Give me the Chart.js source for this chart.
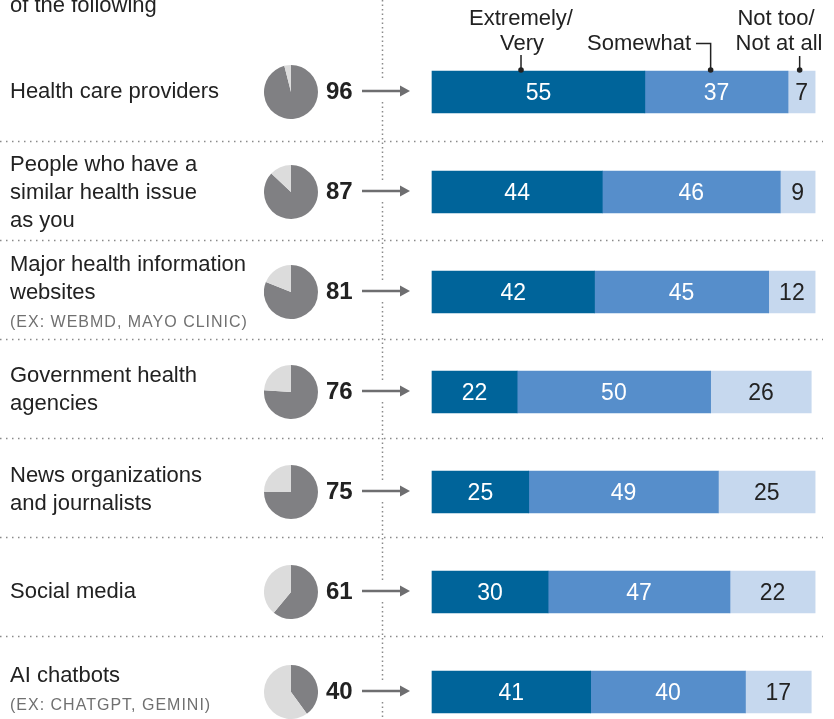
<!DOCTYPE html>
<html>
<head>
<meta charset="utf-8">
<script src="https://cdn.jsdelivr.net/npm/chart.js@4.4.1/dist/chart.umd.min.js"></script>
<style>
  html, body { margin: 0; padding: 0; background: #fff; }
  #wrap { position: relative; width: 834px; height: 719px; overflow: hidden; background: #fff; }
  #main { position: absolute; left: 0; top: 0; }
  .pie { position: absolute; }
</style>
</head>
<body>
<div id="wrap"><canvas id="main" width="834" height="719"></canvas></div>
<script>
const categories = [
    'Health care providers',
    'People who have a similar health issue as you',
    'Major health information websites',
    'Government health agencies',
    'News organizations and journalists',
    'Social media',
    'AI chatbots'
];
const labelLines = [
    ['Health care providers'],
    ['People who have a', 'similar health issue', 'as you'],
    ['Major health information', 'websites'],
    ['Government health', 'agencies'],
    ['News organizations', 'and journalists'],
    ['Social media'],
    ['AI chatbots']
];
const subLabels = ['', '', '(EX: WEBMD, MAYO CLINIC)', '', '', '', '(EX: CHATGPT, GEMINI)'];

// share who get health info from each source
const usedPct = [96, 87, 81, 76, 75, 61, 40];

// trust among those who use it
const extremelyVery = [55, 44, 42, 22, 25, 30, 41];
const somewhat = [37, 46, 45, 50, 49, 47, 40];
const notTooNotAtAll = [7, 9, 12, 26, 25, 22, 17];

const seriesNames = ['Extremely/Very', 'Somewhat', 'Not too/Not at all'];

const FONT = '"Liberation Sans", Arial, sans-serif';
const TEXT = '#222222';
const BLUES = ['#00649a', '#568ecb', '#c6d8ee'];
const PIE_COLORS = ['#808083', '#dcdcdc'];
const PIE_X = 290.5;

function dotted(ctx, x1, y1, x2, y2, gap) {
    ctx.save();
    ctx.strokeStyle = '#8a8a8a';
    ctx.lineWidth = 1.5;
    ctx.setLineDash([1.5, gap]);
    ctx.beginPath();
    ctx.moveTo(x1, y1);
    ctx.lineTo(x2, y2);
    ctx.stroke();
    ctx.restore();
}

const decorations = {
    id: 'decorations',
    afterDatasetsDraw(chart) {
        const { ctx, scales: { x, y } } = chart;
        ctx.save();

        // segment values
        ctx.font = `23px ${FONT}`;
        ctx.textAlign = 'center';
        ctx.textBaseline = 'alphabetic';
        chart.data.datasets.forEach((ds, di) => {
            chart.getDatasetMeta(di).data.forEach((bar, i) => {
                const p = bar.getProps(['x', 'base', 'y'], true);
                ctx.fillStyle = di === 2 ? TEXT : '#ffffff';
                ctx.fillText(ds.data[i], (p.x + p.base) / 2, p.y + 8);
            });
        });

        // heading fragment
        ctx.font = `22px ${FONT}`;
        ctx.textAlign = 'left';
        ctx.fillStyle = TEXT;
        ctx.fillText('of the following', 10, 12);

        const centers = categories.map((c, i) => y.getPixelForValue(i));

        // row labels
        centers.forEach((cy, i) => {
            const lines = labelLines[i].slice();
            if (subLabels[i]) lines.push(subLabels[i]);
            const n = lines.length;
            const shift = n === 3 ? 7 : n === 2 ? 4 : 6;
            lines.forEach((line, li) => {
                const by = cy + shift + (li - (n - 1) / 2) * 28;
                const isSub = subLabels[i] && li === n - 1;
                ctx.font = isSub ? `16px ${FONT}` : `22px ${FONT}`;
                ctx.fillStyle = isSub ? '#707070' : TEXT;
                ctx.letterSpacing = isSub ? '1px' : '0px';
                ctx.fillText(line, 10, by);
            });
            ctx.letterSpacing = '0px';

            // share using the source
            ctx.font = `bold 24px ${FONT}`;
            ctx.fillStyle = TEXT;
            ctx.fillText(usedPct[i], 326, cy + 7);

            // arrow into the bar
            ctx.strokeStyle = '#6e6e70';
            ctx.fillStyle = '#6e6e70';
            ctx.lineWidth = 2.5;
            ctx.beginPath();
            ctx.moveTo(362, cy - 1);
            ctx.lineTo(403, cy - 1);
            ctx.stroke();
            ctx.beginPath();
            ctx.moveTo(410, cy - 1);
            ctx.lineTo(400, cy - 6.5);
            ctx.lineTo(400, cy + 4.5);
            ctx.closePath();
            ctx.fill();
        });

        // vertical divider, broken around each arrow
        let top = 0;
        centers.forEach(cy => {
            dotted(ctx, 382.5, top, 382.5, cy - 11, 3);
            top = cy + 10;
        });
        dotted(ctx, 382.5, top, 382.5, chart.height, 3);

        // row rules sit just above the midpoints
        for (let i = 0; i < centers.length - 1; i++) {
            const ry = Math.round((centers[i] + centers[i + 1]) / 2 - 1 - i) + 0.5;
            dotted(ctx, 0, ry, 823, ry, 4.5);
        }

        // series key with leaders
        ctx.font = `22px ${FONT}`;
        ctx.fillStyle = TEXT;
        ctx.textAlign = 'center';
        const [ev, sw, nt] = seriesNames;
        const evParts = ev.split('/');
        ctx.fillText(evParts[0] + '/', 521, 25);
        ctx.fillText(evParts[1], 522, 50);
        const ntParts = nt.split('/');
        ctx.fillText(ntParts[0] + '/', 776, 25);
        ctx.fillText(ntParts[1], 779, 50);
        ctx.textAlign = 'right';
        ctx.fillText(sw, 691, 50);

        const x1 = x.getPixelForValue(23);
        const x2 = x.getPixelForValue(72);
        const x3 = x.getPixelForValue(95);
        ctx.strokeStyle = TEXT;
        ctx.lineWidth = 1.5;
        ctx.beginPath();
        ctx.moveTo(x1, 55); ctx.lineTo(x1, 70);
        ctx.moveTo(696, 43.5); ctx.lineTo(x2, 43.5); ctx.lineTo(x2, 70);
        ctx.moveTo(x3, 56); ctx.lineTo(x3, 70);
        ctx.stroke();
        [x1, x2, x3].forEach(px => {
            ctx.beginPath();
            ctx.arc(px, 70, 2.8, 0, Math.PI * 2);
            ctx.fill();
        });

        ctx.restore();
    }
};

const mainChart = new Chart(document.getElementById('main'), {
    type: 'bar',
    data: {
        labels: categories,
        datasets: [
            { label: seriesNames[0], data: extremelyVery, backgroundColor: BLUES[0] },
            { label: seriesNames[1], data: somewhat, backgroundColor: BLUES[1] },
            { label: seriesNames[2], data: notTooNotAtAll, backgroundColor: BLUES[2] }
        ]
    },
    options: {
        indexAxis: 'y',
        responsive: false,
        animation: false,
        events: [],
        devicePixelRatio: 1,
        layout: { padding: { left: 432, right: 15, top: 92, bottom: 27 } },
        datasets: { bar: { barThickness: 42, borderWidth: 0, clip: false } },
        scales: {
            x: { stacked: true, min: 0, max: 100, display: false },
            y: { stacked: true, offset: false, display: false }
        },
        plugins: { legend: { display: false }, tooltip: { enabled: false } }
    },
    plugins: [decorations]
});

// small pies showing how many use each source
const wrap = document.getElementById('wrap');
usedPct.forEach((v, i) => {
    const c = document.createElement('canvas');
    c.width = 54;
    c.height = 54;
    c.className = 'pie';
    c.style.left = (PIE_X - 27) + 'px';
    c.style.top = (mainChart.scales.y.getPixelForValue(i) - 27.5) + 'px';
    wrap.appendChild(c);
    new Chart(c, {
        type: 'pie',
        data: {
            labels: ['Use', 'Do not use'],
            datasets: [{ data: [v, 100 - v], backgroundColor: PIE_COLORS, borderWidth: 0 }]
        },
        options: {
            responsive: false,
            animation: false,
            events: [],
            devicePixelRatio: 1,
            plugins: { legend: { display: false }, tooltip: { enabled: false } }
        }
    });
});
</script>
</body>
</html>
